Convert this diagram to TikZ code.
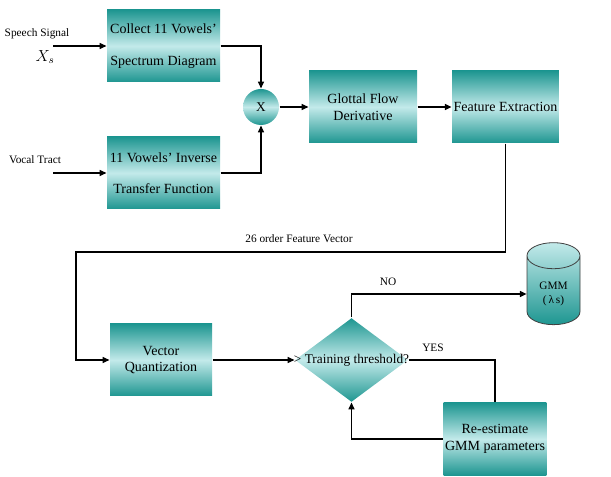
\documentclass[tikz,border=0pt]{standalone}
\usepackage{fontspec}
\setmainfont{Liberation Serif}
\usetikzlibrary{arrows.meta,shapes.geometric}
\definecolor{tealdark}{RGB}{30,150,145}
\definecolor{teallight}{RGB}{195,234,234}

\begin{document}
\begin{tikzpicture}[x=0.75pt,y=-0.75pt,line width=0.9pt,
  >={Triangle[length=5pt,width=4.5pt]},
  shade/.style={top color=tealdark,bottom color=tealdark,middle color=teallight},
  block/.style={shade,rectangle,minimum width=80pt,minimum height=54pt,inner sep=1pt,
    align=center,font=\fontsize{10.5}{12.6}\selectfont},
  mult/.style={shade,circle,minimum size=27pt,inner sep=0pt,font=\fontsize{10}{12}\selectfont},
  decision/.style={shade,diamond,minimum width=84.75pt,minimum height=63pt,inner sep=0pt},
  store/.style={cylinder,shape border rotate=90,aspect=0.7,minimum width=39.75pt,
    minimum height=61.5pt,top color=teallight,bottom color=tealdark,draw=black!75,
    line width=0.6pt,align=center,font=\fontsize{8.5}{11}\selectfont},
  lbl/.style={font=\fontsize{8.5}{10}\selectfont,inner sep=0pt}]
  \useasboundingbox (0,0) rectangle (611,477);
  % inputs
  \node[lbl] (speech) at (37,34) {Speech Signal};
  \node (xs) at (45,57) {\fontsize{12}{12}\selectfont $X_{s}$};
  \node[lbl] (vocal) at (35,160) {Vocal Tract};
  \coordinate (sin) at (53,46);
  \coordinate (vin) at (53,173);
  % blocks
  \node[block,minimum width=84.75pt] (collect) at (163.5,46) {Collect 11 Vowels'\\[11pt]Spectrum Diagram};
  \node[block,minimum width=84.75pt] (inverse) at (163.5,173) {11 Vowels' Inverse\\[11pt]Transfer Function};
  \node[mult] (x) at (261,107) {X};
  \node[block,minimum width=81pt] (glottal) at (363,107) {Glottal Flow\\[0.5pt]Derivative};
  \node[block] (feat) at (505.5,107) {Feature Extraction};
  \node[block,minimum width=76.5pt] (vq) at (161,360) {Vector\\Quantization};
  \node[decision] (dec) at (351.5,360) {};
  \node[font=\fontsize{10}{12}\selectfont] (dectext) at (dec.center) {> Training threshold?};
  \node[store] (gmm) at (553.5,294) {GMM\\(\,λ\,s)};
  \node[block,minimum width=76.5pt] (reest) at (495,439) {Re-estimate\\GMM parameters};
  \coordinate (turn) at (76,252);
  % connectors
  \draw [->] (sin) -- (collect.west);
  \draw [->] (vin) -- (inverse.west);
  \draw [->] (collect.east) -| (x.north);
  \draw [->] (inverse.east) -| (x.south);
  \draw [->] (x.east) -- (glottal.west);
  \draw [->] (glottal.east) -- (feat.west);
  \draw [->] (feat.south) |- (turn) |- (vq.west);
  \node[lbl] (fv) at (299,239) {26 order Feature Vector};
  \draw [->] (vq.east) -- (dec.west);
  \draw [->] (dec.north) |- (gmm.west);
  \node[lbl] (no) at (388,282) {NO};
  \draw (dec.east) -| (reest.north);
  \node[lbl] (yes) at (433,348) {YES};
  \draw [->] (reest.west) -| (dec.south);
\end{tikzpicture}
\end{document}
